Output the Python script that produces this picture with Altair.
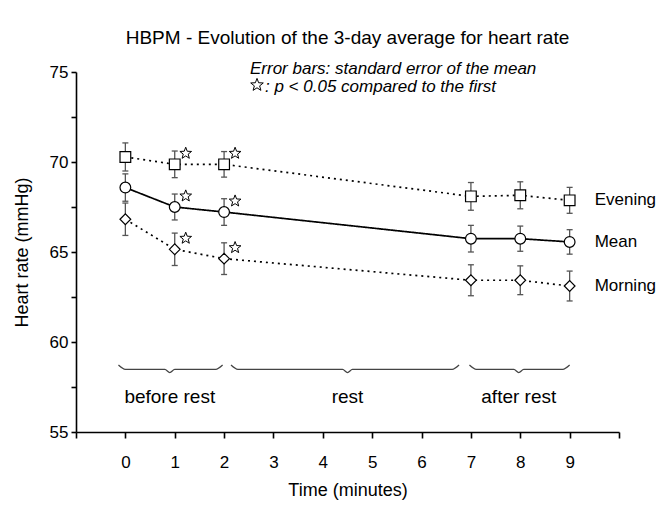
import altair as alt
import pandas as pd

F = "Liberation Sans"

# ---- data ----
times = [0, 1, 2, 7, 8, 9]
series_names = ["Evening", "Mean", "Morning"]
evening = [70.28, 69.87, 69.87, 68.09, 68.15, 67.87]
evening_se = [0.78, 0.74, 0.71, 0.77, 0.75, 0.72]
mean = [68.58, 67.50, 67.22, 65.74, 65.74, 65.56]
mean_se = [0.76, 0.72, 0.74, 0.74, 0.70, 0.68]
morning = [66.82, 65.15, 64.63, 63.43, 63.43, 63.11]
morning_se = [0.90, 0.90, 0.88, 0.86, 0.80, 0.83]
significant = [False, True, True, False, False, False]

phase_names = ["before rest", "rest", "after rest"]
phase_start = [-0.14, 2.14, 6.97]
phase_end = [1.97, 6.76, 9.0]
phase_mid = [0.90, 4.50, 7.97]

x_ticks = list(range(-1, 11))
y_ticks = [55, 57.5, 60, 62.5, 65, 67.5, 70, 72.5, 75]

# ---- tables ----
rows = []
for name, vals, ses in zip(series_names, [evening, mean, morning],
                           [evening_se, mean_se, morning_se]):
    for t, v, s, g in zip(times, vals, ses, significant):
        rows.append(dict(series=name, time=t, value=v, lo=v - s, hi=v + s, sig=g))
df = pd.DataFrame(rows)
df_sig = df[df["sig"]].copy()
df_last = df[df["time"] == times[-1]].copy()

# brace shapes (in data units)
b_top, b_low, b_tip, d_end, d_mid = 58.72, 58.48, 58.30, 0.14, 0.10
brows = []
for i, (s, e, m) in enumerate(zip(phase_start, phase_end, phase_mid)):
    pts = [(s, b_top), (s + d_end, b_low), (m - d_mid, b_low), (m, b_tip),
           (m + d_mid, b_low), (e - d_end, b_low), (e, b_top)]
    for k, (bx, by) in enumerate(pts):
        brows.append(dict(brace=i, order=k, time=bx, value=by))
df_brace = pd.DataFrame(brows)
df_phase = pd.DataFrame(dict(phase=phase_names, time=phase_mid))

# ---- scales / axes ----
xscale = alt.Scale(domain=[-1, 10], nice=False, zero=False)
yscale = alt.Scale(domain=[55, 75], nice=False, zero=False)

xaxis = alt.Axis(values=x_ticks, title="Time (minutes)",
                 labelExpr="datum.value < 0 || datum.value > 9 ? '' : datum.label",
                 tickSize=6, labelPadding=16, grid=False,
                 titleX=271.5, titleY=58, titleBaseline="middle", titleAnchor="middle")
yaxis = alt.Axis(values=y_ticks, title="Heart rate (mmHg)",
                 labelExpr="datum.value % 5 == 0 ? datum.label : ''",
                 tickSize=5, labelPadding=3, grid=False,
                 titleX=-54, titleY=180, titleAngle=270, titleBaseline="middle",
                 titleAlign="center")


def X(field="time"):
    return alt.X(f"{field}:Q", scale=xscale, axis=xaxis)


def Y(field="value"):
    return alt.Y(f"{field}:Q", scale=yscale, axis=yaxis)


base = alt.Chart(df)

lines = base.mark_line(color="black", strokeWidth=1.7).encode(
    x=X(), y=Y(),
    detail="series:N",
    strokeDash=alt.StrokeDash("series:N",
                              scale=alt.Scale(domain=series_names,
                                              range=[[2, 4], [1, 0], [2, 4]]),
                              legend=None),
)

err = base.mark_rule(color="#555555", strokeWidth=1.3).encode(
    x=X(), y=Y("lo"), y2="hi:Q")
cap_lo = base.mark_tick(orient="horizontal", size=6, thickness=1.3,
                        color="#555555", opacity=1).encode(x=X(), y=Y("lo"))
cap_hi = base.mark_tick(orient="horizontal", size=6, thickness=1.3,
                        color="#555555", opacity=1).encode(x=X(), y=Y("hi"))

points = base.mark_point(filled=True, fill="white", stroke="black",
                         strokeWidth=1.2, size=115, opacity=1).encode(
    x=X(), y=Y(),
    shape=alt.Shape("series:N",
                    scale=alt.Scale(domain=series_names,
                                    range=["square", "circle", "diamond"]),
                    legend=None),
)

STAR = ("M0,-1L0.247,-0.34L0.951,-0.309L0.4,0.13L0.588,0.809L0,0.42"
        "L-0.588,0.809L-0.4,0.13L-0.951,-0.309L-0.247,-0.34Z")

stars = alt.Chart(df_sig).mark_point(shape=STAR, filled=True, fill="white",
                                     stroke="black", strokeWidth=1, size=150,
                                     opacity=1, xOffset=11, yOffset=-11).encode(
    x=X(), y=Y())

labels = alt.Chart(df_last).mark_text(align="left", baseline="middle", dx=25,
                                      font=F, fontSize=17, color="black").encode(
    x=X(), y=Y(), text="series:N")

braces = alt.Chart(df_brace).mark_line(color="#444444", strokeWidth=1.2,
                                       interpolate="monotone").encode(
    x=X(), y=Y(), detail="brace:N", order="order:Q")

phase_text = alt.Chart(df_phase).mark_text(baseline="middle", font=F,
                                           fontSize=19, color="black").encode(
    x=X(), y=alt.value(325), text="phase:N")

note_df = pd.DataFrame(dict(t=["Error bars: standard error of the mean"]))
note1 = alt.Chart(note_df).mark_text(align="left", baseline="middle", font=F,
                                     fontSize=17, fontStyle="italic",
                                     color="black").encode(
    x=alt.value(174), y=alt.value(-3), text="t:N")
note2_df = pd.DataFrame(dict(t=[": p < 0.05 compared to the first"]))
note2 = alt.Chart(note2_df).mark_text(align="left", baseline="middle", font=F,
                                      fontSize=17, fontStyle="italic",
                                      color="black").encode(
    x=alt.value(189), y=alt.value(15), text="t:N")
note_star = alt.Chart(note2_df).mark_point(shape=STAR, filled=True, fill="white",
                                           stroke="black", strokeWidth=1,
                                           size=175, opacity=1).encode(
    x=alt.value(181), y=alt.value(13), detail="t:N")

chart = alt.layer(
    braces, lines, err, cap_lo, cap_hi, points, stars, labels, phase_text,
    note1, note2, note_star
).properties(
    width=543, height=360,
    title=alt.TitleParams("HBPM - Evolution of the 3-day average for heart rate",
                          font=F, fontSize=19, fontWeight="normal",
                          anchor="middle", offset=12, color="black"),
    padding={"left": 68, "top": 64, "right": 37, "bottom": 68},
    autosize=alt.AutoSizeParams(type="none"),
).configure_view(stroke=None).configure_axis(
    domainColor="black", domainWidth=1.6, tickColor="black", tickWidth=1.6,
    labelFont=F, labelFontSize=17, labelColor="black",
    titleFont=F, titleFontSize=18, titleFontWeight="normal", titleColor="black",
)

chart.save("out.html", embed_options={"renderer": "svg", "actions": False})
